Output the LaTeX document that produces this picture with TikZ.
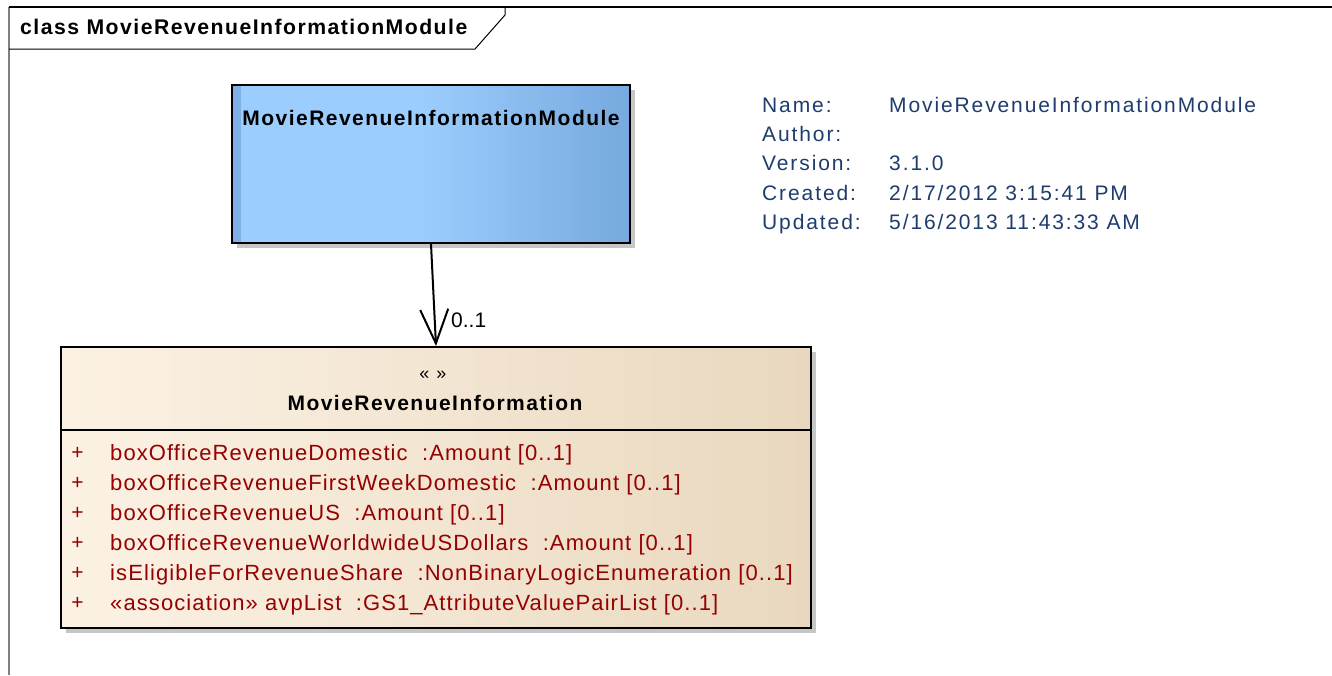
\documentclass[tikz,border=0pt]{standalone}
\usepackage{fontspec}
\setmainfont{Liberation Sans}
\newfontfamily\hdfont[LetterSpace=7]{Liberation Sans}
\newfontfamily\infofont[LetterSpace=9]{Liberation Sans}
\newfontfamily\attrfont[LetterSpace=5]{Liberation Sans}
\usetikzlibrary{arrows.meta}
\definecolor{blueL}{HTML}{9CCDFF}
\definecolor{blueR}{HTML}{76A9DE}
\definecolor{blueS}{HTML}{7DB1E6}
\definecolor{beigeL}{HTML}{FCF2E4}
\definecolor{beigeR}{HTML}{E9D8BF}
\definecolor{shadowgray}{HTML}{C6C6C6}
\definecolor{attrred}{HTML}{960000}
\definecolor{infoblue}{HTML}{1E3C6E}
\tikzset{
  boxborder/.style={draw=black, line width=2, inner sep=0, anchor=north west},
  boldtitle/.style={font=\hdfont\fontsize{21}{25}\selectfont\bfseries, inner sep=0},
  infotext/.style={font=\infofont\fontsize{21}{24}\selectfont, text=infoblue, anchor=base west, inner sep=0},
  attrtext/.style={font=\attrfont\fontsize{22}{26}\selectfont, text=attrred, anchor=base west, inner sep=0},
  plustext/.style={font=\fontsize{21}{24}\selectfont, text=attrred, anchor=base, inner sep=0},
}
\begin{document}
\begin{tikzpicture}[x=1pt,y=-1pt]
\useasboundingbox (0,0) rectangle (1332,675);
\fill[white] (0,0) rectangle (1332,675);
% frame
\draw[gray, line width=1.5] (9,7) -- (9,675);
\draw[black, line width=1.5] (9,7) -- (1332,7);
\draw[black, line width=1] (505,7) -- (505,15) -- (475,49) -- (9,49);
\node[font=\hdfont\fontsize{21.2}{25}\selectfont\bfseries, inner sep=0, anchor=base west] (frametitle) at (20,34.3) {class MovieRevenueInformationModule};
% module box
\fill[shadowgray] (237,90) rectangle (635,248);
\fill[blueL] (231,84) rectangle (629,242);
\shade[left color=blueL, right color=blueR] (420,84) rectangle (629,242);
\fill[blueS] (231,84) rectangle (241,242);
\node[boxborder, minimum width=398, minimum height=158] (mod) at (231,84) {};
\node[boldtitle, anchor=base] (modtitle) at (431,125) {MovieRevenueInformationModule};
% info
\node[infotext] (n1) at (762,112.3) {Name:};
\node[infotext] (v1) at (889,112.3) {MovieRevenueInformationModule};
\node[infotext] (n2) at (762,141.6) {Author:};
\node[infotext] (n3) at (762,170.8) {Version:};
\node[infotext] (v3) at (889,170.8) {3.1.0};
\node[infotext] (n4) at (762,200.1) {Created:};
\node[infotext] (v4) at (889,200.1) {2/17/2012 3:15:41 PM};
\node[infotext] (n5) at (762,229.3) {Updated:};
\node[infotext] (v5) at (889,229.3) {5/16/2013 11:43:33 AM};
% information class box
\fill[shadowgray] (66,352) rectangle (816,633);
\shade[left color=beigeL, right color=beigeR] (60,346) rectangle (810,627);
\node[boxborder, minimum width=750, minimum height=281] (info) at (60,346) {};
\draw[black, line width=2] (60,430) -- (810,430);
\node[font=\fontsize{18}{20}\selectfont, inner sep=0] (stereo) at (433,375) {«\hspace{7pt}»};
\node[boldtitle, anchor=base] (infotitle) at (435,410) {MovieRevenueInformation};
\foreach \i/\t in {0/{boxOfficeRevenueDomestic\ \ :Amount [0..1]},
                   1/{boxOfficeRevenueFirstWeekDomestic\ \ :Amount [0..1]},
                   2/{boxOfficeRevenueUS\ \ :Amount [0..1]},
                   3/{boxOfficeRevenueWorldwideUSDollars\ \ :Amount [0..1]},
                   4/{isEligibleForRevenueShare\ \ :NonBinaryLogicEnumeration [0..1]},
                   5/{«association» avpList\ \ :GS1\_AttributeValuePairList [0..1]}}{
  \node[plustext] (p\i) at (77.5,459.5+30*\i) {+};
  \node[attrtext] (a\i) at (110,460+30*\i) {\t};
}
% connector
\draw[black, line width=2, -{Straight Barb[length=34, width=28, line width=2]}] (mod.south) -- (info.north);
\node[font=\fontsize{21}{24}\selectfont, anchor=base west, inner sep=0] (mult) at (451,327) {0..1};
\end{tikzpicture}
\end{document}
